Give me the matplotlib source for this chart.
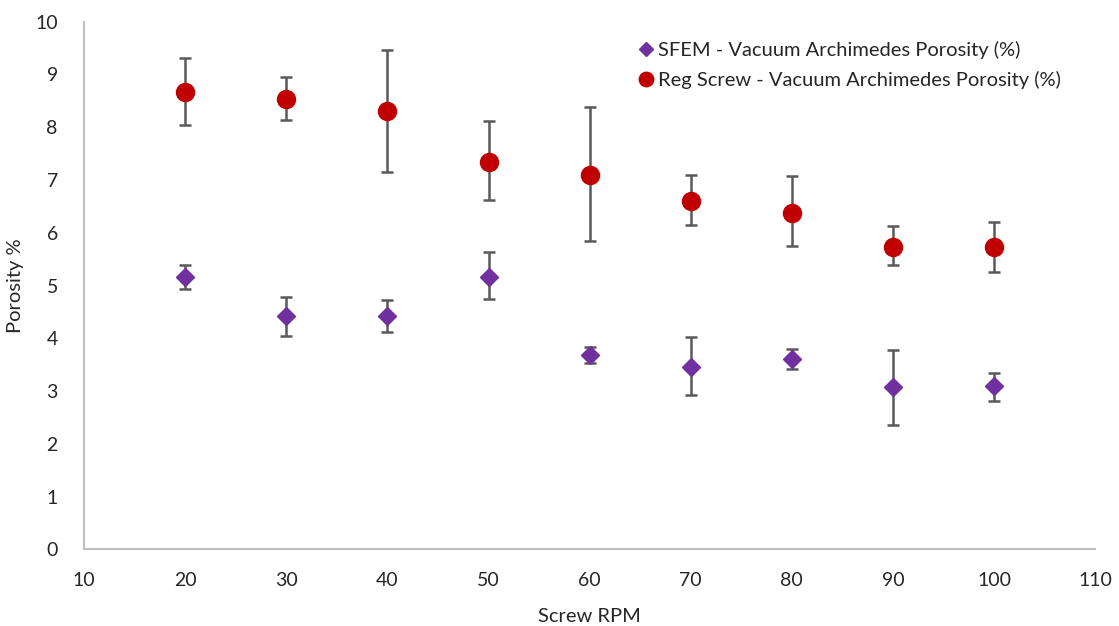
import numpy as np
import matplotlib
matplotlib.use("Agg")
import matplotlib.pyplot as plt

plt.rcParams['font.family'] = ['Lato', 'DejaVu Sans']

rpm = [20, 30, 40, 50, 60, 70, 80, 90, 100]

# SFEM - vacuum Archimedes porosity (%)
sfem = [5.16, 4.43, 4.43, 5.17, 3.68, 3.46, 3.61, 3.07, 3.10]
sfem_lo = [0.23, 0.38, 0.32, 0.42, 0.15, 0.54, 0.20, 0.72, 0.28]
sfem_hi = [0.22, 0.36, 0.29, 0.46, 0.16, 0.56, 0.19, 0.70, 0.24]

# regular screw - vacuum Archimedes porosity (%)
reg = [8.66, 8.53, 8.30, 7.35, 7.10, 6.61, 6.38, 5.73, 5.73]
reg_lo = [0.62, 0.39, 1.14, 0.73, 1.25, 0.46, 0.64, 0.35, 0.47]
reg_hi = [0.65, 0.42, 1.16, 0.77, 1.28, 0.48, 0.69, 0.39, 0.48]

fig = plt.figure(figsize=(11.19, 6.26), dpi=100)
ax = fig.add_axes([0.0753, 0.1225, 0.9033, 0.8428])

ax.errorbar(rpm, sfem, yerr=[sfem_lo, sfem_hi], fmt='D', ms=9, color='#7030A0',
            ecolor='#595959', elinewidth=1.8, capsize=4, capthick=1.8,
            label='SFEM - Vacuum Archimedes Porosity (%)')
ax.errorbar(rpm, reg, yerr=[reg_lo, reg_hi], fmt='o', ms=13, color='#C00000',
            ecolor='#595959', elinewidth=1.8, capsize=4, capthick=1.8,
            label='Reg Screw - Vacuum Archimedes Porosity (%)')

ax.set_xlim(10, 110)
ax.set_ylim(0, 10)
ax.set_xticks(np.arange(10, 111, 10))
ax.set_yticks(np.arange(0, 11, 1))

for s in ['top', 'right']:
    ax.spines[s].set_visible(False)
for s in ['left', 'bottom']:
    ax.spines[s].set_color('#BFBFBF')
    ax.spines[s].set_linewidth(1.5)

ax.tick_params(axis='both', length=0, labelsize=14, colors='#262626')
ax.tick_params(axis='y', pad=19)
ax.tick_params(axis='x', pad=16)

ax.set_xlabel('Screw RPM', fontsize=14.5, color='#262626', labelpad=14)
ax.set_ylabel('Porosity %', fontsize=14.5, color='#262626', labelpad=8)

handles, labels = ax.get_legend_handles_labels()
handles = [h[0] for h in handles]
leg = ax.legend(handles, labels, loc='upper left', bbox_to_anchor=(0.527, 0.998),
                frameon=False, fontsize=14.5, handletextpad=0.05, handlelength=1.1,
                labelspacing=0.6, markerscale=0.8)
for t in leg.get_texts():
    t.set_color('#262626')

fig.savefig('out.png', dpi=100)
